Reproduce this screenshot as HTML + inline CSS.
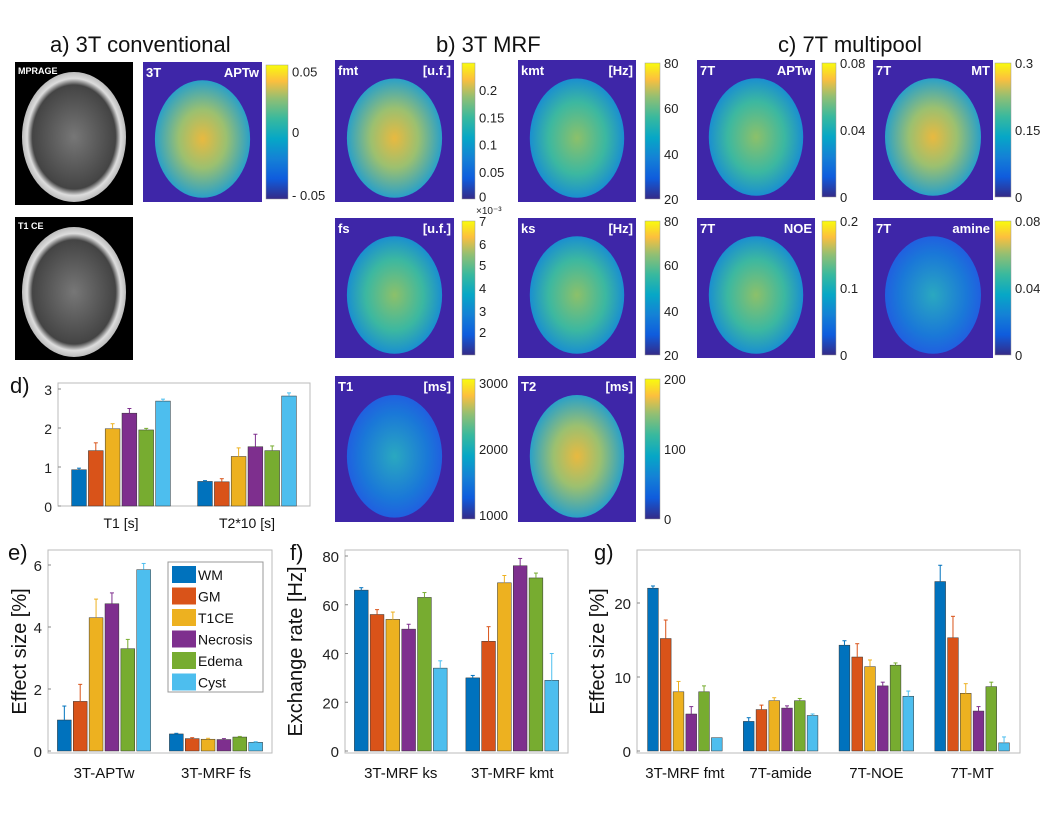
<!DOCTYPE html>
<html><head><meta charset="utf-8"><style>
body{margin:0;background:#fff;width:1047px;height:813px;overflow:hidden;font-family:"Liberation Sans",sans-serif}
svg{position:absolute;left:0;top:0}
</style></head><body>
<svg id="fig" width="1047" height="813" font-family="Liberation Sans, sans-serif">
<defs>
<linearGradient id="parula" x1="0" y1="1" x2="0" y2="0">
<stop offset="0" stop-color="#352a87"/><stop offset="0.15" stop-color="#0f5cdd"/><stop offset="0.3" stop-color="#1481d6"/><stop offset="0.45" stop-color="#06a7c6"/><stop offset="0.6" stop-color="#38b99e"/><stop offset="0.75" stop-color="#92bf73"/><stop offset="0.88" stop-color="#fcbf3e"/><stop offset="1" stop-color="#f9fb0e"/>
</linearGradient>
<radialGradient id="brainA"><stop offset="0" stop-color="#8cc06a"/><stop offset="0.6" stop-color="#3cb8a0"/><stop offset="1" stop-color="#1a8fd0"/></radialGradient>
<radialGradient id="brainB"><stop offset="0" stop-color="#e8b940"/><stop offset="0.5" stop-color="#9bc070"/><stop offset="1" stop-color="#2aa0c8"/></radialGradient>
<radialGradient id="brainC"><stop offset="0" stop-color="#2aa8c0"/><stop offset="0.7" stop-color="#1a78d8"/><stop offset="1" stop-color="#2060e0"/></radialGradient>
<radialGradient id="mri"><stop offset="0" stop-color="#777"/><stop offset="0.8" stop-color="#444"/><stop offset="0.9" stop-color="#ddd"/><stop offset="1" stop-color="#bbb"/></radialGradient>
</defs>
<g id="maps"></g>
<g id="charts"></g>
</svg>
<script>
const NS='http://www.w3.org/2000/svg';
const svg=document.getElementById('fig');
function el(tag,attrs,parent,text){const e=document.createElementNS(NS,tag);for(const k in attrs)e.setAttribute(k,attrs[k]);if(text!==undefined)e.textContent=text;(parent||svg).appendChild(e);return e;}
const maps=document.getElementById('maps');

const titles=[['a) 3T conventional',50,52],['b) 3T MRF',436,52],['c) 7T multipool',778,52]];
titles.forEach(t=>{const e=el('text',{x:t[1],y:t[2],'font-size':22,fill:'#111'},maps,t[0]);

});

[[15,62,'MPRAGE'],[15,217,'T1 CE']].forEach(m=>{
 const g=el('g',{},maps);
 
 
 el('rect',{x:m[0],y:m[1],width:118,height:143,fill:'#000'},g);
 el('ellipse',{cx:m[0]+59,cy:m[1]+75,rx:52,ry:65,fill:'url(#mri)'},g);
 el('text',{x:m[0]+3,y:m[1]+12,'font-size':9,'font-weight':'bold',fill:'#fff'},g,m[2]);
});

const mapDefs=[
 [143,62,119,140,'3T','APTw','url(#brainB)',266,22,[['0.05',0.95],['0',0.5],['- 0.05',0.03]]],
 [335,60,119,142,'fmt','[u.f.]','url(#brainB)',462,13,[['0.2',0.8],['0.15',0.6],['0.1',0.4],['0.05',0.2],['0',0.02]]],
 [518,60,118,142,'kmt','[Hz]','url(#brainA)',645,15,[['80',1],['60',0.67],['40',0.33],['20',0]]],
 [697,60,118,140,'7T','APTw','url(#brainA)',822,14,[['0.08',1],['0.04',0.5],['0',0]]],
 [873,60,120,140,'7T','MT','url(#brainB)',995,16,[['0.3',1],['0.15',0.5],['0',0]]],
 [335,218,119,140,'fs','[u.f.]','url(#brainA)',462,13,[['7',1],['6',0.83],['5',0.67],['4',0.5],['3',0.33],['2',0.17]]],
 [518,218,118,140,'ks','[Hz]','url(#brainA)',645,15,[['80',1],['60',0.67],['40',0.33],['20',0]]],
 [697,218,118,140,'7T','NOE','url(#brainA)',822,14,[['0.2',1],['0.1',0.5],['0',0]]],
 [873,218,120,140,'7T','amine','url(#brainC)',995,16,[['0.08',1],['0.04',0.5],['0',0]]],
 [335,376,119,146,'T1','[ms]','url(#brainC)',462,13,[['3000',0.97],['2000',0.5],['1000',0.03]]],
 [518,376,118,146,'T2','[ms]','url(#brainB)',645,15,[['200',1],['100',0.5],['0',0]]]
];
mapDefs.forEach(d=>{
 const [x,y,w,h,l,r,grad,cbx,cbw,ticks]=d;
 const g=el('g',{},maps);
 
 
 el('rect',{x:x,y:y,width:w,height:h,fill:'#3e26a8'},g);
 el('ellipse',{cx:x+w/2,cy:y+h*0.55,rx:w*0.4,ry:h*0.42,fill:grad},g);
 el('text',{x:x+3,y:y+15,'font-size':13,'font-weight':'bold',fill:'#fff'},g,l);
 el('text',{x:x+w-3,y:y+15,'font-size':13,'font-weight':'bold',fill:'#fff','text-anchor':'end'},g,r);
 const cb=el('rect',{x:cbx,y:y+3,width:cbw,height:h-6,fill:'url(#parula)',stroke:'#999','stroke-width':0.5},g);
 
 
 ticks.forEach(t=>{el('text',{x:cbx+cbw+4,y:y+3+(h-6)*(1-t[1])+5,'font-size':13,fill:'#222'},g,t[0]);});
});
const ex=el('text',{x:476,y:214,'font-size':10,fill:'#222'},maps,'×10⁻³');



const colors=['#0072BD','#D95319','#EDB120','#7E2F8E','#77AC30','#4DBEEE'];
const series=['WM','GM','T1CE','Necrosis','Edema','Cyst'];

const dCats=['T1 [s]','T2*10 [s]'];
const dVals=[[0.93,1.42,1.98,2.38,1.95,2.69],[0.63,0.62,1.27,1.52,1.42,2.82]];
const dErr=[[0.04,0.2,0.13,0.12,0.04,0.05],[0.02,0.08,0.22,0.32,0.12,0.08]];
const dTicks=[0,1,2,3];

const eCats=['3T-APTw','3T-MRF fs'];
const eVals=[[1.0,1.6,4.3,4.75,3.3,5.85],[0.55,0.4,0.38,0.37,0.45,0.28]];
const eErr=[[0.45,0.55,0.6,0.35,0.3,0.2],[0.02,0.03,0.03,0.03,0.02,0.02]];
const eTicks=[0,2,4,6];

const fCats=['3T-MRF ks','3T-MRF kmt'];
const fVals=[[66,56,54,50,63,34],[30,45,69,76,71,29]];
const fErr=[[1,2,3,2,2,3],[1,6,3,3,2,11]];
const fTicks=[0,20,40,60,80];

const gCats=['3T-MRF fmt','7T-amide','7T-NOE','7T-MT'];
const gVals=[[22,15.2,8,5,8,1.8],[4,5.6,6.8,5.8,6.8,4.8],[14.3,12.7,11.4,8.8,11.6,7.4],[22.9,15.3,7.8,5.4,8.7,1.1]];
const gErr=[[0.3,2.5,1.4,1,0.8,0],[0.5,0.6,0.4,0.3,0.3,0.2],[0.6,1.8,0.9,0.5,0.3,0.7],[2.2,2.9,1.3,0.6,0.6,0.8]];
const gTicks=[0,10,20];

const charts=document.getElementById('charts');
function barChart(o){
 const g=el('g',{},charts);
 
 
 const yS=v=>o.y0-(v-0)*(o.y0-o.yTop)/o.vTop;
 const n=o.cats.length, gw=(o.right-o.left)/n;
 el('rect',{x:o.left,y:o.top,width:o.right-o.left,height:o.bottom-o.top,fill:'#fff',stroke:'#bbb','stroke-width':1},g);
 o.ticks.forEach(t=>{
  const tl=el('text',{x:o.left-6,y:yS(t)+6,'font-size':o.fs,fill:'#222','text-anchor':'end'},g,String(t));
  
  
  el('line',{x1:o.left,x2:o.left+3,y1:yS(t),y2:yS(t),stroke:'#888'},g);
 });
 const bw=gw*o.bf/6;
 o.cats.forEach((c,i)=>{
  const cx=o.left+gw*(i+0.5);
  const lab=el('text',{x:cx,y:o.bottom+o.labOff,'font-size':o.fs,fill:'#111','text-anchor':'middle'},g,c);
  
  
  o.vals[i].forEach((v,j)=>{
   const x=cx-bw*3+j*bw+1;
   const b=el('rect',{x:x,y:yS(v),width:bw-2,height:yS(0)-yS(v),fill:colors[j],stroke:'#333','stroke-width':0.5},g);
   
   
   const e=o.err[i][j];
   if(e>0){const ex=x+(bw-2)/2;
    el('line',{x1:ex,x2:ex,y1:yS(v),y2:yS(v+e),stroke:colors[j],'stroke-width':1},g);
    el('line',{x1:ex-2,x2:ex+2,y1:yS(v+e),y2:yS(v+e),stroke:colors[j],'stroke-width':1},g);}
  });
 });
 if(o.ylab){const yl=el('text',{x:0,y:0,'font-size':20,fill:'#111','text-anchor':'middle',transform:`translate(${o.ylabX},${(o.top+o.bottom)/2}) rotate(-90)`},g,o.ylab);
  
  }
 const pl=el('text',{x:o.plX,y:o.plY,'font-size':22,fill:'#111'},g,o.panel);
 
 
 return g;
}
barChart({name:'chart-d',cats:dCats,vals:dVals,err:dErr,ticks:dTicks,left:58,right:310,top:383,bottom:506,y0:506,yTop:389,vTop:3,bf:0.8,fs:14,labOff:22,panel:'d)',plX:10,plY:393});
barChart({name:'chart-e',cats:eCats,vals:eVals,err:eErr,ticks:eTicks,left:48,right:272,top:550,bottom:753,y0:751,yTop:565,vTop:6,bf:0.85,fs:15,labOff:25,ylab:'Effect size [%]',ylabX:26,panel:'e)',plX:8,plY:560});
barChart({name:'chart-f',cats:fCats,vals:fVals,err:fErr,ticks:fTicks,left:345,right:568,top:550,bottom:753,y0:751,yTop:556,vTop:80,bf:0.85,fs:15,labOff:25,ylab:'Exchange rate [Hz]',ylabX:302,panel:'f)',plX:290,plY:560});
barChart({name:'chart-g',cats:gCats,vals:gVals,err:gErr,ticks:gTicks,left:637,right:1020,top:550,bottom:753,y0:751,yTop:603,vTop:20,bf:0.8,fs:15,labOff:25,ylab:'Effect size [%]',ylabX:604,panel:'g)',plX:594,plY:560});

const lg=el('g',{},charts);


el('rect',{x:168,y:562,width:95,height:130,fill:'#fff',stroke:'#999'},lg);
series.forEach((s,i)=>{
 const y=566+i*21.5;
 const sw=el('rect',{x:172,y:y,width:24,height:17,fill:colors[i]},lg);
 
 
 el('text',{x:198,y:y+14,'font-size':14,fill:'#111'},lg,s);
});
</script>
</body></html>
